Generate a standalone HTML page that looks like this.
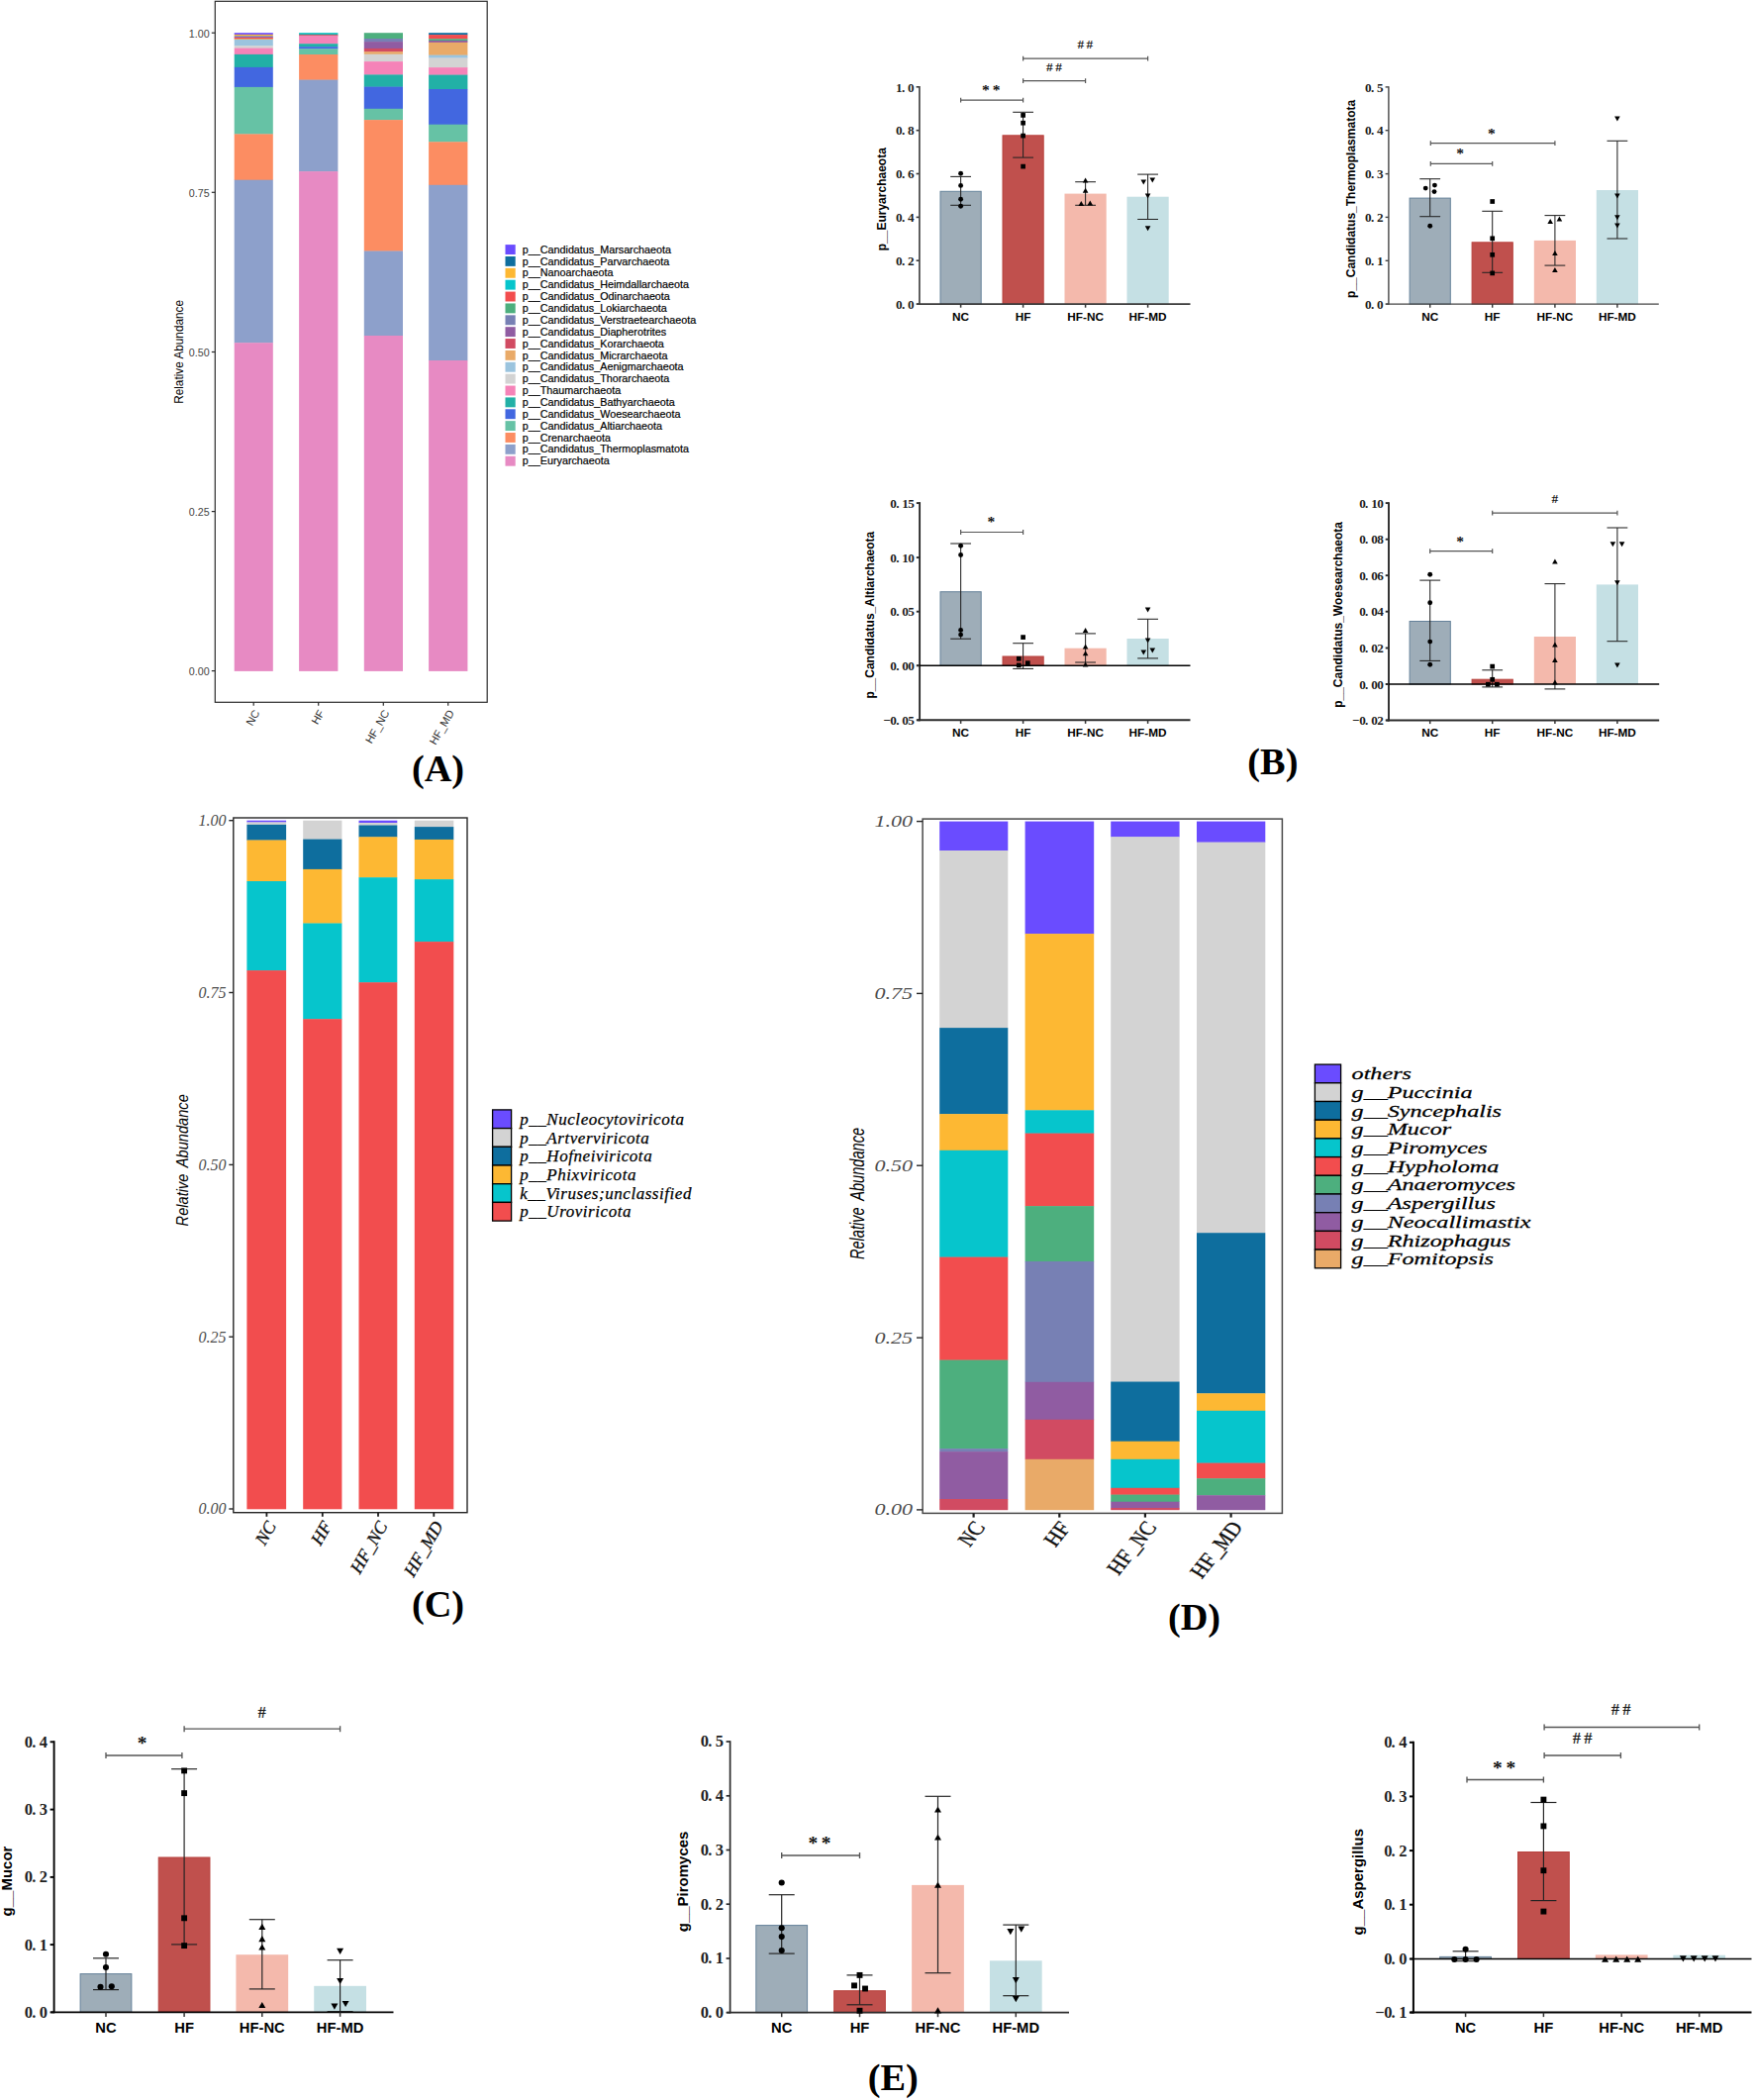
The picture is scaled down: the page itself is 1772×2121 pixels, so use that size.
<!DOCTYPE html>
<html lang="en">
<head>
<meta charset="utf-8">
<title>Figure: archaea, virus and fungi composition</title>
<style>
html,body{margin:0;padding:0;background:#fff;}
body{width:1772px;height:2121px;overflow:hidden;}
svg{display:block;}
.ff-sans{font-family:"Liberation Sans",sans-serif;}
.ff-serif{font-family:"Liberation Serif",serif;}
</style>
</head>
<body>
<svg width="1772" height="2121" viewBox="0 0 1772 2121">
<rect x="0" y="0" width="1772" height="2121" fill="#fff"/>
<g id="panelA">
<rect x="236.7" y="33.2" width="39.1" height="2" fill="#6A4CFF"/>
<rect x="236.7" y="34.9" width="39.1" height="1.7" fill="#FDB833"/>
<rect x="236.7" y="36.3" width="39.1" height="1.2" fill="#7780B4"/>
<rect x="236.7" y="37.2" width="39.1" height="1.1" fill="#905CA2"/>
<rect x="236.7" y="38" width="39.1" height="1.3" fill="#F24D4E"/>
<rect x="236.7" y="39" width="39.1" height="1.2" fill="#E9AA68"/>
<rect x="236.7" y="39.9" width="39.1" height="6.6" fill="#9BC4DE"/>
<rect x="236.7" y="46.2" width="39.1" height="2.7" fill="#D3D3D3"/>
<rect x="236.7" y="48.6" width="39.1" height="6.6" fill="#F583B8"/>
<rect x="236.7" y="54.9" width="39.1" height="13.3" fill="#22B0A6"/>
<rect x="236.7" y="67.9" width="39.1" height="20.3" fill="#4267E0"/>
<rect x="236.7" y="87.9" width="39.1" height="47.8" fill="#66C2A5"/>
<rect x="236.7" y="135.4" width="39.1" height="46.6" fill="#FC8D62"/>
<rect x="236.7" y="181.7" width="39.1" height="164.8" fill="#8DA0CB"/>
<rect x="236.7" y="346.2" width="39.1" height="331.7" fill="#E78AC3"/>
<rect x="302.1" y="33.2" width="39.3" height="1" fill="#06C5CC"/>
<rect x="302.1" y="33.9" width="39.3" height="1.6" fill="#22B0A6"/>
<rect x="302.1" y="35.2" width="39.3" height="1.4" fill="#D14B62"/>
<rect x="302.1" y="36.3" width="39.3" height="8.2" fill="#F583B8"/>
<rect x="302.1" y="44.2" width="39.3" height="3.3" fill="#22B0A6"/>
<rect x="302.1" y="47.2" width="39.3" height="2.4" fill="#4267E0"/>
<rect x="302.1" y="49.3" width="39.3" height="6" fill="#66C2A5"/>
<rect x="302.1" y="55" width="39.3" height="25.9" fill="#FC8D62"/>
<rect x="302.1" y="80.6" width="39.3" height="92.8" fill="#8DA0CB"/>
<rect x="302.1" y="173.1" width="39.3" height="504.8" fill="#E78AC3"/>
<rect x="367.8" y="33.2" width="39.2" height="6.1" fill="#4DAF7E"/>
<rect x="367.8" y="39" width="39.2" height="3.4" fill="#7780B4"/>
<rect x="367.8" y="42.1" width="39.2" height="7.1" fill="#905CA2"/>
<rect x="367.8" y="48.9" width="39.2" height="3.6" fill="#D14B62"/>
<rect x="367.8" y="52.2" width="39.2" height="2.8" fill="#E9AA68"/>
<rect x="367.8" y="54.7" width="39.2" height="7.7" fill="#D3D3D3"/>
<rect x="367.8" y="62.1" width="39.2" height="13.6" fill="#F583B8"/>
<rect x="367.8" y="75.4" width="39.2" height="12.5" fill="#22B0A6"/>
<rect x="367.8" y="87.6" width="39.2" height="22.5" fill="#4267E0"/>
<rect x="367.8" y="109.8" width="39.2" height="11.6" fill="#66C2A5"/>
<rect x="367.8" y="121.1" width="39.2" height="132.7" fill="#FC8D62"/>
<rect x="367.8" y="253.5" width="39.2" height="85.8" fill="#8DA0CB"/>
<rect x="367.8" y="339" width="39.2" height="338.9" fill="#E78AC3"/>
<rect x="433.1" y="33.2" width="39.3" height="2.2" fill="#0E6E9E"/>
<rect x="433.1" y="35.1" width="39.3" height="4.5" fill="#F24D4E"/>
<rect x="433.1" y="39.3" width="39.3" height="2" fill="#4DAF7E"/>
<rect x="433.1" y="41" width="39.3" height="2.1" fill="#905CA2"/>
<rect x="433.1" y="42.8" width="39.3" height="13.1" fill="#E9AA68"/>
<rect x="433.1" y="55.6" width="39.3" height="3.2" fill="#9BC4DE"/>
<rect x="433.1" y="58.5" width="39.3" height="9.9" fill="#D3D3D3"/>
<rect x="433.1" y="68.1" width="39.3" height="7.8" fill="#F583B8"/>
<rect x="433.1" y="75.6" width="39.3" height="14.7" fill="#22B0A6"/>
<rect x="433.1" y="90" width="39.3" height="36" fill="#4267E0"/>
<rect x="433.1" y="125.7" width="39.3" height="17.9" fill="#66C2A5"/>
<rect x="433.1" y="143.3" width="39.3" height="43.8" fill="#FC8D62"/>
<rect x="433.1" y="186.8" width="39.3" height="177.5" fill="#8DA0CB"/>
<rect x="433.1" y="364" width="39.3" height="313.9" fill="#E78AC3"/>
<rect x="217.3" y="1.3" width="274.9" height="708" fill="none" stroke="#2b2b2b" stroke-width="1.2"/>
<line x1="213.8" y1="33.2" x2="217.3" y2="33.2" stroke="#2b2b2b" stroke-width="1.2"/>
<text class="ff-sans" x="211.6" y="37.6" font-size="10.7" fill="#444" text-anchor="end">1.00</text>
<line x1="213.8" y1="194.3" x2="217.3" y2="194.3" stroke="#2b2b2b" stroke-width="1.2"/>
<text class="ff-sans" x="211.6" y="198.7" font-size="10.7" fill="#444" text-anchor="end">0.75</text>
<line x1="213.8" y1="355.5" x2="217.3" y2="355.5" stroke="#2b2b2b" stroke-width="1.2"/>
<text class="ff-sans" x="211.6" y="359.9" font-size="10.7" fill="#444" text-anchor="end">0.50</text>
<line x1="213.8" y1="516.6" x2="217.3" y2="516.6" stroke="#2b2b2b" stroke-width="1.2"/>
<text class="ff-sans" x="211.6" y="521" font-size="10.7" fill="#444" text-anchor="end">0.25</text>
<line x1="213.8" y1="677.6" x2="217.3" y2="677.6" stroke="#2b2b2b" stroke-width="1.2"/>
<text class="ff-sans" x="211.6" y="682" font-size="10.7" fill="#444" text-anchor="end">0.00</text>
<line x1="256.2" y1="709.3" x2="256.2" y2="712.8" stroke="#2b2b2b" stroke-width="1.2"/>
<text class="ff-sans" x="0" y="0" font-size="11.1" fill="#333" text-anchor="end" transform="translate(262.7,719.8) rotate(-60)">NC</text>
<line x1="321.7" y1="709.3" x2="321.7" y2="712.8" stroke="#2b2b2b" stroke-width="1.2"/>
<text class="ff-sans" x="0" y="0" font-size="11.1" fill="#333" text-anchor="end" transform="translate(328.2,719.8) rotate(-60)">HF</text>
<line x1="387.3" y1="709.3" x2="387.3" y2="712.8" stroke="#2b2b2b" stroke-width="1.2"/>
<text class="ff-sans" x="0" y="0" font-size="11.1" fill="#333" text-anchor="end" transform="translate(393.8,719.8) rotate(-60)">HF_NC</text>
<line x1="452.7" y1="709.3" x2="452.7" y2="712.8" stroke="#2b2b2b" stroke-width="1.2"/>
<text class="ff-sans" x="0" y="0" font-size="11.1" fill="#333" text-anchor="end" transform="translate(459.2,719.8) rotate(-60)">HF_MD</text>
<text class="ff-sans" x="0" y="0" font-size="11.8" fill="#000" text-anchor="middle" transform="translate(185.4,355.4) rotate(-90) scale(1,1.1)">Relative Abundance</text>
<rect x="510.5" y="247.1" width="10.2" height="9.9" fill="#6A4CFF"/>
<text class="ff-sans" x="527.8" y="255.7" font-size="10.77" fill="#000" stroke="#000" stroke-width="0.2">p__Candidatus_Marsarchaeota</text>
<rect x="510.5" y="258.97" width="10.2" height="9.9" fill="#0E6E9E"/>
<text class="ff-sans" x="527.8" y="267.57" font-size="10.77" fill="#000" stroke="#000" stroke-width="0.2">p__Candidatus_Parvarchaeota</text>
<rect x="510.5" y="270.84" width="10.2" height="9.9" fill="#FDB833"/>
<text class="ff-sans" x="527.8" y="279.44" font-size="10.77" fill="#000" stroke="#000" stroke-width="0.2">p__Nanoarchaeota</text>
<rect x="510.5" y="282.71" width="10.2" height="9.9" fill="#06C5CC"/>
<text class="ff-sans" x="527.8" y="291.31" font-size="10.77" fill="#000" stroke="#000" stroke-width="0.2">p__Candidatus_Heimdallarchaeota</text>
<rect x="510.5" y="294.58" width="10.2" height="9.9" fill="#F24D4E"/>
<text class="ff-sans" x="527.8" y="303.18" font-size="10.77" fill="#000" stroke="#000" stroke-width="0.2">p__Candidatus_Odinarchaeota</text>
<rect x="510.5" y="306.45" width="10.2" height="9.9" fill="#4DAF7E"/>
<text class="ff-sans" x="527.8" y="315.05" font-size="10.77" fill="#000" stroke="#000" stroke-width="0.2">p__Candidatus_Lokiarchaeota</text>
<rect x="510.5" y="318.32" width="10.2" height="9.9" fill="#7780B4"/>
<text class="ff-sans" x="527.8" y="326.92" font-size="10.77" fill="#000" stroke="#000" stroke-width="0.2">p__Candidatus_Verstraetearchaeota</text>
<rect x="510.5" y="330.19" width="10.2" height="9.9" fill="#905CA2"/>
<text class="ff-sans" x="527.8" y="338.79" font-size="10.77" fill="#000" stroke="#000" stroke-width="0.2">p__Candidatus_Diapherotrites</text>
<rect x="510.5" y="342.06" width="10.2" height="9.9" fill="#D14B62"/>
<text class="ff-sans" x="527.8" y="350.66" font-size="10.77" fill="#000" stroke="#000" stroke-width="0.2">p__Candidatus_Korarchaeota</text>
<rect x="510.5" y="353.93" width="10.2" height="9.9" fill="#E9AA68"/>
<text class="ff-sans" x="527.8" y="362.53" font-size="10.77" fill="#000" stroke="#000" stroke-width="0.2">p__Candidatus_Micrarchaeota</text>
<rect x="510.5" y="365.8" width="10.2" height="9.9" fill="#9BC4DE"/>
<text class="ff-sans" x="527.8" y="374.4" font-size="10.77" fill="#000" stroke="#000" stroke-width="0.2">p__Candidatus_Aenigmarchaeota</text>
<rect x="510.5" y="377.67" width="10.2" height="9.9" fill="#D3D3D3"/>
<text class="ff-sans" x="527.8" y="386.27" font-size="10.77" fill="#000" stroke="#000" stroke-width="0.2">p__Candidatus_Thorarchaeota</text>
<rect x="510.5" y="389.54" width="10.2" height="9.9" fill="#F583B8"/>
<text class="ff-sans" x="527.8" y="398.14" font-size="10.77" fill="#000" stroke="#000" stroke-width="0.2">p__Thaumarchaeota</text>
<rect x="510.5" y="401.41" width="10.2" height="9.9" fill="#22B0A6"/>
<text class="ff-sans" x="527.8" y="410.01" font-size="10.77" fill="#000" stroke="#000" stroke-width="0.2">p__Candidatus_Bathyarchaeota</text>
<rect x="510.5" y="413.28" width="10.2" height="9.9" fill="#4267E0"/>
<text class="ff-sans" x="527.8" y="421.88" font-size="10.77" fill="#000" stroke="#000" stroke-width="0.2">p__Candidatus_Woesearchaeota</text>
<rect x="510.5" y="425.15" width="10.2" height="9.9" fill="#66C2A5"/>
<text class="ff-sans" x="527.8" y="433.75" font-size="10.77" fill="#000" stroke="#000" stroke-width="0.2">p__Candidatus_Altiarchaeota</text>
<rect x="510.5" y="437.02" width="10.2" height="9.9" fill="#FC8D62"/>
<text class="ff-sans" x="527.8" y="445.62" font-size="10.77" fill="#000" stroke="#000" stroke-width="0.2">p__Crenarchaeota</text>
<rect x="510.5" y="448.89" width="10.2" height="9.9" fill="#8DA0CB"/>
<text class="ff-sans" x="527.8" y="457.49" font-size="10.77" fill="#000" stroke="#000" stroke-width="0.2">p__Candidatus_Thermoplasmatota</text>
<rect x="510.5" y="460.76" width="10.2" height="9.9" fill="#E78AC3"/>
<text class="ff-sans" x="527.8" y="469.36" font-size="10.77" fill="#000" stroke="#000" stroke-width="0.2">p__Euryarchaeota</text>
</g>
<g id="B1">
<rect x="950" y="193.3" width="41.2" height="113.8" fill="#9EADB8" stroke="#65829A" stroke-width="1"/>
<rect x="1013" y="136.8" width="41.2" height="170.3" fill="#C0504D" stroke="#B8423E" stroke-width="1"/>
<rect x="1075.5" y="195.6" width="42.2" height="111.5" fill="#F4B9AC"/>
<rect x="1138.5" y="198.7" width="42.2" height="108.4" fill="#C5E0E4"/>
<line x1="970.6" y1="178.4" x2="970.6" y2="207.3" stroke="#222" stroke-width="1.05"/>
<line x1="960.2" y1="178.4" x2="981" y2="178.4" stroke="#222" stroke-width="1.05"/>
<line x1="960.2" y1="207.3" x2="981" y2="207.3" stroke="#222" stroke-width="1.05"/>
<line x1="1033.6" y1="113.3" x2="1033.6" y2="159.1" stroke="#222" stroke-width="1.05"/>
<line x1="1023.2" y1="113.3" x2="1044" y2="113.3" stroke="#222" stroke-width="1.05"/>
<line x1="1023.2" y1="159.1" x2="1044" y2="159.1" stroke="#222" stroke-width="1.05"/>
<line x1="1096.6" y1="183.7" x2="1096.6" y2="207.3" stroke="#222" stroke-width="1.05"/>
<line x1="1086.2" y1="183.7" x2="1107" y2="183.7" stroke="#222" stroke-width="1.05"/>
<line x1="1086.2" y1="207.3" x2="1107" y2="207.3" stroke="#222" stroke-width="1.05"/>
<line x1="1159.6" y1="176.1" x2="1159.6" y2="221.5" stroke="#222" stroke-width="1.05"/>
<line x1="1149.2" y1="176.1" x2="1170" y2="176.1" stroke="#222" stroke-width="1.05"/>
<line x1="1149.2" y1="221.5" x2="1170" y2="221.5" stroke="#222" stroke-width="1.05"/>
<line x1="928.9" y1="87" x2="928.9" y2="307.9" stroke="#3a3a3a" stroke-width="1.6"/>
<line x1="926.3" y1="307.1" x2="1202.5" y2="307.1" stroke="#3a3a3a" stroke-width="1.6"/>
<line x1="925.6" y1="307.1" x2="928.9" y2="307.1" stroke="#3a3a3a" stroke-width="1.6"/>
<text class="ff-serif" x="905.1 911 917.1" y="311.8" font-size="13.2" fill="#1f1f1f" font-weight="bold">0.0</text>
<line x1="925.6" y1="263.2" x2="928.9" y2="263.2" stroke="#3a3a3a" stroke-width="1.6"/>
<text class="ff-serif" x="905.1 911 917.1" y="267.9" font-size="13.2" fill="#1f1f1f" font-weight="bold">0.2</text>
<line x1="925.6" y1="219.4" x2="928.9" y2="219.4" stroke="#3a3a3a" stroke-width="1.6"/>
<text class="ff-serif" x="905.1 911 917.1" y="224.1" font-size="13.2" fill="#1f1f1f" font-weight="bold">0.4</text>
<line x1="925.6" y1="175.5" x2="928.9" y2="175.5" stroke="#3a3a3a" stroke-width="1.6"/>
<text class="ff-serif" x="905.1 911 917.1" y="180.2" font-size="13.2" fill="#1f1f1f" font-weight="bold">0.6</text>
<line x1="925.6" y1="131.7" x2="928.9" y2="131.7" stroke="#3a3a3a" stroke-width="1.6"/>
<text class="ff-serif" x="905.1 911 917.1" y="136.4" font-size="13.2" fill="#1f1f1f" font-weight="bold">0.8</text>
<line x1="925.6" y1="87.8" x2="928.9" y2="87.8" stroke="#3a3a3a" stroke-width="1.6"/>
<text class="ff-serif" x="905.1 911 917.1" y="92.5" font-size="13.2" fill="#1f1f1f" font-weight="bold">1.0</text>
<line x1="970.6" y1="307.1" x2="970.6" y2="310.7" stroke="#333" stroke-width="1.5"/>
<text class="ff-sans" x="970.6" y="324.3" font-size="11.8" fill="#000" text-anchor="middle" font-weight="bold">NC</text>
<line x1="1033.6" y1="307.1" x2="1033.6" y2="310.7" stroke="#333" stroke-width="1.5"/>
<text class="ff-sans" x="1033.6" y="324.3" font-size="11.8" fill="#000" text-anchor="middle" font-weight="bold">HF</text>
<line x1="1096.6" y1="307.1" x2="1096.6" y2="310.7" stroke="#333" stroke-width="1.5"/>
<text class="ff-sans" x="1096.6" y="324.3" font-size="11.8" fill="#000" text-anchor="middle" font-weight="bold">HF-NC</text>
<line x1="1159.6" y1="307.1" x2="1159.6" y2="310.7" stroke="#333" stroke-width="1.5"/>
<text class="ff-sans" x="1159.6" y="324.3" font-size="11.8" fill="#000" text-anchor="middle" font-weight="bold">HF-MD</text>
<circle cx="970.6" cy="175.3" r="2.45" fill="#000"/>
<circle cx="970.6" cy="187.4" r="2.45" fill="#000"/>
<circle cx="970.6" cy="201.2" r="2.45" fill="#000"/>
<circle cx="970.6" cy="208.2" r="2.45" fill="#000"/>
<rect x="1031.25" y="114.05" width="4.7" height="4.7" fill="#000"/>
<rect x="1031.25" y="121.85" width="4.7" height="4.7" fill="#000"/>
<rect x="1031.25" y="134.75" width="4.7" height="4.7" fill="#000"/>
<rect x="1031.25" y="165.75" width="4.7" height="4.7" fill="#000"/>
<polygon points="1096.6,179.4 1099.4,184.4 1093.8,184.4" fill="#000"/>
<polygon points="1096.6,189.7 1099.4,194.7 1093.8,194.7" fill="#000"/>
<polygon points="1092.3,203 1095.1,208 1089.5,208" fill="#000"/>
<polygon points="1101.3,202.6 1104.1,207.6 1098.5,207.6" fill="#000"/>
<polygon points="1155.3,186.4 1158.1,181.4 1152.5,181.4" fill="#000"/>
<polygon points="1164.3,184.6 1167.1,179.6 1161.5,179.6" fill="#000"/>
<polygon points="1159.6,200.4 1162.4,195.4 1156.8,195.4" fill="#000"/>
<polygon points="1159.6,233.2 1162.4,228.2 1156.8,228.2" fill="#000"/>
<line x1="970.6" y1="101.2" x2="1033.6" y2="101.2" stroke="#555" stroke-width="1.2"/>
<line x1="970.6" y1="98.8" x2="970.6" y2="103.6" stroke="#555" stroke-width="1.2"/>
<line x1="1033.6" y1="98.8" x2="1033.6" y2="103.6" stroke="#555" stroke-width="1.2"/>
<text class="ff-serif" x="1002.8" y="96.19" font-size="15.5" fill="#111" text-anchor="middle" font-weight="bold" letter-spacing="3">**</text>
<line x1="1033.6" y1="81.7" x2="1096.6" y2="81.7" stroke="#555" stroke-width="1.2"/>
<line x1="1033.6" y1="79.3" x2="1033.6" y2="84.1" stroke="#555" stroke-width="1.2"/>
<line x1="1096.6" y1="79.3" x2="1096.6" y2="84.1" stroke="#555" stroke-width="1.2"/>
<text class="ff-serif" x="1066.25" y="71.73" font-size="13.3" fill="#1a1a1a" text-anchor="middle" font-weight="bold" letter-spacing="2.5">##</text>
<line x1="1033.6" y1="59.1" x2="1159.6" y2="59.1" stroke="#555" stroke-width="1.2"/>
<line x1="1033.6" y1="56.7" x2="1033.6" y2="61.5" stroke="#555" stroke-width="1.2"/>
<line x1="1159.6" y1="56.7" x2="1159.6" y2="61.5" stroke="#555" stroke-width="1.2"/>
<text class="ff-serif" x="1097.55" y="48.73" font-size="13.3" fill="#1a1a1a" text-anchor="middle" font-weight="bold" letter-spacing="2.5">##</text>
<text class="ff-sans" x="0" y="0" font-size="12" fill="#000" text-anchor="middle" font-weight="bold" transform="translate(895.2,201.2) rotate(-90)">p__Euryarchaeota</text>
</g>
<g id="B2">
<rect x="1424.1" y="200.1" width="41.2" height="107" fill="#9EADB8" stroke="#65829A" stroke-width="1"/>
<rect x="1487.1" y="244.8" width="41.2" height="62.3" fill="#C0504D" stroke="#B8423E" stroke-width="1"/>
<rect x="1549.8" y="242.9" width="42.2" height="64.2" fill="#F4B9AC"/>
<rect x="1612.8" y="192" width="42.2" height="115.1" fill="#C5E0E4"/>
<line x1="1444.7" y1="180.7" x2="1444.7" y2="218.7" stroke="#222" stroke-width="1.05"/>
<line x1="1434.3" y1="180.7" x2="1455.1" y2="180.7" stroke="#222" stroke-width="1.05"/>
<line x1="1434.3" y1="218.7" x2="1455.1" y2="218.7" stroke="#222" stroke-width="1.05"/>
<line x1="1507.7" y1="213.3" x2="1507.7" y2="275.3" stroke="#222" stroke-width="1.05"/>
<line x1="1497.3" y1="213.3" x2="1518.1" y2="213.3" stroke="#222" stroke-width="1.05"/>
<line x1="1497.3" y1="275.3" x2="1518.1" y2="275.3" stroke="#222" stroke-width="1.05"/>
<line x1="1570.9" y1="217.6" x2="1570.9" y2="268.1" stroke="#222" stroke-width="1.05"/>
<line x1="1560.5" y1="217.6" x2="1581.3" y2="217.6" stroke="#222" stroke-width="1.05"/>
<line x1="1560.5" y1="268.1" x2="1581.3" y2="268.1" stroke="#222" stroke-width="1.05"/>
<line x1="1633.9" y1="142.3" x2="1633.9" y2="241" stroke="#222" stroke-width="1.05"/>
<line x1="1623.5" y1="142.3" x2="1644.3" y2="142.3" stroke="#222" stroke-width="1.05"/>
<line x1="1623.5" y1="241" x2="1644.3" y2="241" stroke="#222" stroke-width="1.05"/>
<line x1="1402.9" y1="87.2" x2="1402.9" y2="307.8" stroke="#444" stroke-width="1.4"/>
<line x1="1400.3" y1="307.1" x2="1675.8" y2="307.1" stroke="#444" stroke-width="1.4"/>
<line x1="1399.6" y1="307.1" x2="1402.9" y2="307.1" stroke="#444" stroke-width="1.4"/>
<text class="ff-serif" x="1379.1 1385 1391.1" y="311.8" font-size="13.2" fill="#1f1f1f" font-weight="bold">0.0</text>
<line x1="1399.6" y1="263.3" x2="1402.9" y2="263.3" stroke="#444" stroke-width="1.4"/>
<text class="ff-serif" x="1379.1 1385 1391.1" y="268" font-size="13.2" fill="#1f1f1f" font-weight="bold">0.1</text>
<line x1="1399.6" y1="219.4" x2="1402.9" y2="219.4" stroke="#444" stroke-width="1.4"/>
<text class="ff-serif" x="1379.1 1385 1391.1" y="224.1" font-size="13.2" fill="#1f1f1f" font-weight="bold">0.2</text>
<line x1="1399.6" y1="175.6" x2="1402.9" y2="175.6" stroke="#444" stroke-width="1.4"/>
<text class="ff-serif" x="1379.1 1385 1391.1" y="180.3" font-size="13.2" fill="#1f1f1f" font-weight="bold">0.3</text>
<line x1="1399.6" y1="131.7" x2="1402.9" y2="131.7" stroke="#444" stroke-width="1.4"/>
<text class="ff-serif" x="1379.1 1385 1391.1" y="136.4" font-size="13.2" fill="#1f1f1f" font-weight="bold">0.4</text>
<line x1="1399.6" y1="87.9" x2="1402.9" y2="87.9" stroke="#444" stroke-width="1.4"/>
<text class="ff-serif" x="1379.1 1385 1391.1" y="92.6" font-size="13.2" fill="#1f1f1f" font-weight="bold">0.5</text>
<line x1="1444.7" y1="307.1" x2="1444.7" y2="310.7" stroke="#333" stroke-width="1.4"/>
<text class="ff-sans" x="1444.7" y="324.3" font-size="11.8" fill="#000" text-anchor="middle" font-weight="bold">NC</text>
<line x1="1507.7" y1="307.1" x2="1507.7" y2="310.7" stroke="#333" stroke-width="1.4"/>
<text class="ff-sans" x="1507.7" y="324.3" font-size="11.8" fill="#000" text-anchor="middle" font-weight="bold">HF</text>
<line x1="1570.9" y1="307.1" x2="1570.9" y2="310.7" stroke="#333" stroke-width="1.4"/>
<text class="ff-sans" x="1570.9" y="324.3" font-size="11.8" fill="#000" text-anchor="middle" font-weight="bold">HF-NC</text>
<line x1="1633.9" y1="307.1" x2="1633.9" y2="310.7" stroke="#333" stroke-width="1.4"/>
<text class="ff-sans" x="1633.9" y="324.3" font-size="11.8" fill="#000" text-anchor="middle" font-weight="bold">HF-MD</text>
<circle cx="1440.2" cy="190.1" r="2.45" fill="#000"/>
<circle cx="1449.4" cy="187.1" r="2.45" fill="#000"/>
<circle cx="1449" cy="193.6" r="2.45" fill="#000"/>
<circle cx="1444.7" cy="228.3" r="2.45" fill="#000"/>
<rect x="1505.35" y="201.15" width="4.7" height="4.7" fill="#000"/>
<rect x="1505.35" y="238.45" width="4.7" height="4.7" fill="#000"/>
<rect x="1505.35" y="254.95" width="4.7" height="4.7" fill="#000"/>
<rect x="1505.35" y="273.55" width="4.7" height="4.7" fill="#000"/>
<polygon points="1566.2,221.1 1569,226.1 1563.4,226.1" fill="#000"/>
<polygon points="1575.4,218.6 1578.2,223.6 1572.6,223.6" fill="#000"/>
<polygon points="1570.9,253.1 1573.7,258.1 1568.1,258.1" fill="#000"/>
<polygon points="1570.9,269.9 1573.7,274.9 1568.1,274.9" fill="#000"/>
<polygon points="1633.9,122.6 1636.7,117.6 1631.1,117.6" fill="#000"/>
<polygon points="1633.9,200.6 1636.7,195.6 1631.1,195.6" fill="#000"/>
<polygon points="1633.9,222.2 1636.7,217.2 1631.1,217.2" fill="#000"/>
<polygon points="1633.9,230.4 1636.7,225.4 1631.1,225.4" fill="#000"/>
<line x1="1445.3" y1="165.3" x2="1507.7" y2="165.3" stroke="#555" stroke-width="1.2"/>
<line x1="1445.3" y1="162.9" x2="1445.3" y2="167.7" stroke="#555" stroke-width="1.2"/>
<line x1="1507.7" y1="162.9" x2="1507.7" y2="167.7" stroke="#555" stroke-width="1.2"/>
<text class="ff-serif" x="1475" y="160.28" font-size="15.5" fill="#111" text-anchor="middle" font-weight="bold">*</text>
<line x1="1445.3" y1="144.6" x2="1570.9" y2="144.6" stroke="#555" stroke-width="1.2"/>
<line x1="1445.3" y1="142.2" x2="1445.3" y2="147" stroke="#555" stroke-width="1.2"/>
<line x1="1570.9" y1="142.2" x2="1570.9" y2="147" stroke="#555" stroke-width="1.2"/>
<text class="ff-serif" x="1506.9" y="139.69" font-size="15.5" fill="#111" text-anchor="middle" font-weight="bold">*</text>
<text class="ff-sans" x="0" y="0" font-size="12" fill="#000" text-anchor="middle" font-weight="bold" transform="translate(1369,200.9) rotate(-90)">p__Candidatus_Thermoplasmatota</text>
</g>
<g id="B3">
<rect x="950" y="597.7" width="41.2" height="74.6" fill="#9EADB8" stroke="#65829A" stroke-width="1"/>
<rect x="1013" y="663" width="41.2" height="9.3" fill="#C0504D" stroke="#B8423E" stroke-width="1"/>
<rect x="1075.5" y="654.7" width="42.2" height="17.6" fill="#F4B9AC"/>
<rect x="1138.5" y="645" width="42.2" height="27.3" fill="#C5E0E4"/>
<line x1="970.6" y1="549" x2="970.6" y2="645.2" stroke="#222" stroke-width="1.05"/>
<line x1="960.2" y1="549" x2="981" y2="549" stroke="#222" stroke-width="1.05"/>
<line x1="960.2" y1="645.2" x2="981" y2="645.2" stroke="#222" stroke-width="1.05"/>
<line x1="1033.6" y1="649.7" x2="1033.6" y2="675.4" stroke="#222" stroke-width="1.05"/>
<line x1="1023.2" y1="649.7" x2="1044" y2="649.7" stroke="#222" stroke-width="1.05"/>
<line x1="1023.2" y1="675.4" x2="1044" y2="675.4" stroke="#222" stroke-width="1.05"/>
<line x1="1096.6" y1="639.9" x2="1096.6" y2="669" stroke="#222" stroke-width="1.05"/>
<line x1="1086.2" y1="639.9" x2="1107" y2="639.9" stroke="#222" stroke-width="1.05"/>
<line x1="1086.2" y1="669" x2="1107" y2="669" stroke="#222" stroke-width="1.05"/>
<line x1="1159.6" y1="625.3" x2="1159.6" y2="664.9" stroke="#222" stroke-width="1.05"/>
<line x1="1149.2" y1="625.3" x2="1170" y2="625.3" stroke="#222" stroke-width="1.05"/>
<line x1="1149.2" y1="664.9" x2="1170" y2="664.9" stroke="#222" stroke-width="1.05"/>
<line x1="929.1" y1="507.15" x2="929.1" y2="728.25" stroke="#2a2a2a" stroke-width="1.9"/>
<line x1="926.5" y1="727.3" x2="1202.5" y2="727.3" stroke="#2a2a2a" stroke-width="1.9"/>
<line x1="926.1" y1="672.3" x2="1202.5" y2="672.3" stroke="#000" stroke-width="1.5"/>
<line x1="925.8" y1="727.3" x2="929.1" y2="727.3" stroke="#2a2a2a" stroke-width="1.9"/>
<text class="ff-serif" x="892.2 899.3 905.2 911.3 917.3" y="732" font-size="13.2" fill="#1f1f1f" font-weight="bold">−0.05</text>
<line x1="925.8" y1="672.3" x2="929.1" y2="672.3" stroke="#2a2a2a" stroke-width="1.9"/>
<text class="ff-serif" x="899.3 905.2 911.3 917.3" y="677" font-size="13.2" fill="#1f1f1f" font-weight="bold">0.00</text>
<line x1="925.8" y1="617.7" x2="929.1" y2="617.7" stroke="#2a2a2a" stroke-width="1.9"/>
<text class="ff-serif" x="899.3 905.2 911.3 917.3" y="622.4" font-size="13.2" fill="#1f1f1f" font-weight="bold">0.05</text>
<line x1="925.8" y1="563.1" x2="929.1" y2="563.1" stroke="#2a2a2a" stroke-width="1.9"/>
<text class="ff-serif" x="899.3 905.2 911.3 917.3" y="567.8" font-size="13.2" fill="#1f1f1f" font-weight="bold">0.10</text>
<line x1="925.8" y1="508.1" x2="929.1" y2="508.1" stroke="#2a2a2a" stroke-width="1.9"/>
<text class="ff-serif" x="899.3 905.2 911.3 917.3" y="512.8" font-size="13.2" fill="#1f1f1f" font-weight="bold">0.15</text>
<line x1="970.6" y1="727.3" x2="970.6" y2="730.9" stroke="#333" stroke-width="1.5"/>
<text class="ff-sans" x="970.6" y="743.9" font-size="11.8" fill="#000" text-anchor="middle" font-weight="bold">NC</text>
<line x1="1033.6" y1="727.3" x2="1033.6" y2="730.9" stroke="#333" stroke-width="1.5"/>
<text class="ff-sans" x="1033.6" y="743.9" font-size="11.8" fill="#000" text-anchor="middle" font-weight="bold">HF</text>
<line x1="1096.6" y1="727.3" x2="1096.6" y2="730.9" stroke="#333" stroke-width="1.5"/>
<text class="ff-sans" x="1096.6" y="743.9" font-size="11.8" fill="#000" text-anchor="middle" font-weight="bold">HF-NC</text>
<line x1="1159.6" y1="727.3" x2="1159.6" y2="730.9" stroke="#333" stroke-width="1.5"/>
<text class="ff-sans" x="1159.6" y="743.9" font-size="11.8" fill="#000" text-anchor="middle" font-weight="bold">HF-MD</text>
<circle cx="970.6" cy="551.2" r="2.45" fill="#000"/>
<circle cx="970.6" cy="560.5" r="2.45" fill="#000"/>
<circle cx="970.6" cy="636.4" r="2.45" fill="#000"/>
<circle cx="970.6" cy="641.1" r="2.45" fill="#000"/>
<rect x="1031.25" y="641.25" width="4.7" height="4.7" fill="#000"/>
<rect x="1026.95" y="662.95" width="4.7" height="4.7" fill="#000"/>
<rect x="1035.95" y="667.35" width="4.7" height="4.7" fill="#000"/>
<rect x="1026.95" y="669.55" width="4.7" height="4.7" fill="#000"/>
<polygon points="1096.6,633.9 1099.4,638.9 1093.8,638.9" fill="#000"/>
<polygon points="1096.6,650.5 1099.4,655.5 1093.8,655.5" fill="#000"/>
<polygon points="1096.6,657.3 1099.4,662.3 1093.8,662.3" fill="#000"/>
<polygon points="1096.6,668.4 1099.4,673.4 1093.8,673.4" fill="#000"/>
<polygon points="1159.6,618.6 1162.4,613.6 1156.8,613.6" fill="#000"/>
<polygon points="1159.6,649.4 1162.4,644.4 1156.8,644.4" fill="#000"/>
<polygon points="1155.3,661.5 1158.1,656.5 1152.5,656.5" fill="#000"/>
<polygon points="1164.3,659.4 1167.1,654.4 1161.5,654.4" fill="#000"/>
<line x1="970.6" y1="537.5" x2="1033.6" y2="537.5" stroke="#555" stroke-width="1.2"/>
<line x1="970.6" y1="535.1" x2="970.6" y2="539.9" stroke="#555" stroke-width="1.2"/>
<line x1="1033.6" y1="535.1" x2="1033.6" y2="539.9" stroke="#555" stroke-width="1.2"/>
<text class="ff-serif" x="1001.4" y="532.18" font-size="15.5" fill="#111" text-anchor="middle" font-weight="bold">*</text>
<text class="ff-sans" x="0" y="0" font-size="12" fill="#000" text-anchor="middle" font-weight="bold" transform="translate(883,621.1) rotate(-90)">p__Candidatus_Altiarchaeota</text>
</g>
<g id="B4">
<rect x="1424.1" y="627.5" width="41.2" height="63.5" fill="#9EADB8" stroke="#65829A" stroke-width="1"/>
<rect x="1487.1" y="686.2" width="41.2" height="4.8" fill="#C0504D" stroke="#B8423E" stroke-width="1"/>
<rect x="1549.8" y="643" width="42.2" height="48" fill="#F4B9AC"/>
<rect x="1612.8" y="590.4" width="42.2" height="100.6" fill="#C5E0E4"/>
<line x1="1444.7" y1="586.1" x2="1444.7" y2="667.4" stroke="#222" stroke-width="1.05"/>
<line x1="1434.3" y1="586.1" x2="1455.1" y2="586.1" stroke="#222" stroke-width="1.05"/>
<line x1="1434.3" y1="667.4" x2="1455.1" y2="667.4" stroke="#222" stroke-width="1.05"/>
<line x1="1507.7" y1="676.8" x2="1507.7" y2="693.9" stroke="#222" stroke-width="1.05"/>
<line x1="1497.3" y1="676.8" x2="1518.1" y2="676.8" stroke="#222" stroke-width="1.05"/>
<line x1="1497.3" y1="693.9" x2="1518.1" y2="693.9" stroke="#222" stroke-width="1.05"/>
<line x1="1570.9" y1="589.6" x2="1570.9" y2="695.9" stroke="#222" stroke-width="1.05"/>
<line x1="1560.5" y1="589.6" x2="1581.3" y2="589.6" stroke="#222" stroke-width="1.05"/>
<line x1="1560.5" y1="695.9" x2="1581.3" y2="695.9" stroke="#222" stroke-width="1.05"/>
<line x1="1633.9" y1="533" x2="1633.9" y2="647.7" stroke="#222" stroke-width="1.05"/>
<line x1="1623.5" y1="533" x2="1644.3" y2="533" stroke="#222" stroke-width="1.05"/>
<line x1="1623.5" y1="647.7" x2="1644.3" y2="647.7" stroke="#222" stroke-width="1.05"/>
<line x1="1403" y1="507.15" x2="1403" y2="728.45" stroke="#2a2a2a" stroke-width="1.9"/>
<line x1="1400.4" y1="727.5" x2="1676.2" y2="727.5" stroke="#2a2a2a" stroke-width="1.9"/>
<line x1="1400" y1="691" x2="1676.2" y2="691" stroke="#000" stroke-width="1.5"/>
<line x1="1399.7" y1="727.5" x2="1403" y2="727.5" stroke="#2a2a2a" stroke-width="1.9"/>
<text class="ff-serif" x="1366.1 1373.2 1379.1 1385.2 1391.2" y="732.2" font-size="13.2" fill="#1f1f1f" font-weight="bold">−0.02</text>
<line x1="1399.7" y1="691" x2="1403" y2="691" stroke="#2a2a2a" stroke-width="1.9"/>
<text class="ff-serif" x="1373.2 1379.1 1385.2 1391.2" y="695.7" font-size="13.2" fill="#1f1f1f" font-weight="bold">0.00</text>
<line x1="1399.7" y1="654.5" x2="1403" y2="654.5" stroke="#2a2a2a" stroke-width="1.9"/>
<text class="ff-serif" x="1373.2 1379.1 1385.2 1391.2" y="659.2" font-size="13.2" fill="#1f1f1f" font-weight="bold">0.02</text>
<line x1="1399.7" y1="617.7" x2="1403" y2="617.7" stroke="#2a2a2a" stroke-width="1.9"/>
<text class="ff-serif" x="1373.2 1379.1 1385.2 1391.2" y="622.4" font-size="13.2" fill="#1f1f1f" font-weight="bold">0.04</text>
<line x1="1399.7" y1="581.2" x2="1403" y2="581.2" stroke="#2a2a2a" stroke-width="1.9"/>
<text class="ff-serif" x="1373.2 1379.1 1385.2 1391.2" y="585.9" font-size="13.2" fill="#1f1f1f" font-weight="bold">0.06</text>
<line x1="1399.7" y1="544.7" x2="1403" y2="544.7" stroke="#2a2a2a" stroke-width="1.9"/>
<text class="ff-serif" x="1373.2 1379.1 1385.2 1391.2" y="549.4" font-size="13.2" fill="#1f1f1f" font-weight="bold">0.08</text>
<line x1="1399.7" y1="508.1" x2="1403" y2="508.1" stroke="#2a2a2a" stroke-width="1.9"/>
<text class="ff-serif" x="1373.2 1379.1 1385.2 1391.2" y="512.8" font-size="13.2" fill="#1f1f1f" font-weight="bold">0.10</text>
<line x1="1444.7" y1="727.5" x2="1444.7" y2="731.1" stroke="#333" stroke-width="1.5"/>
<text class="ff-sans" x="1444.7" y="743.9" font-size="11.8" fill="#000" text-anchor="middle" font-weight="bold">NC</text>
<line x1="1507.7" y1="727.5" x2="1507.7" y2="731.1" stroke="#333" stroke-width="1.5"/>
<text class="ff-sans" x="1507.7" y="743.9" font-size="11.8" fill="#000" text-anchor="middle" font-weight="bold">HF</text>
<line x1="1570.9" y1="727.5" x2="1570.9" y2="731.1" stroke="#333" stroke-width="1.5"/>
<text class="ff-sans" x="1570.9" y="743.9" font-size="11.8" fill="#000" text-anchor="middle" font-weight="bold">HF-NC</text>
<line x1="1633.9" y1="727.5" x2="1633.9" y2="731.1" stroke="#333" stroke-width="1.5"/>
<text class="ff-sans" x="1633.9" y="743.9" font-size="11.8" fill="#000" text-anchor="middle" font-weight="bold">HF-MD</text>
<circle cx="1444.7" cy="580.2" r="2.45" fill="#000"/>
<circle cx="1444.7" cy="608.7" r="2.45" fill="#000"/>
<circle cx="1444.7" cy="648.1" r="2.45" fill="#000"/>
<circle cx="1444.7" cy="671.3" r="2.45" fill="#000"/>
<rect x="1505.35" y="670.75" width="4.7" height="4.7" fill="#000"/>
<rect x="1505.35" y="683.95" width="4.7" height="4.7" fill="#000"/>
<rect x="1501.05" y="688.85" width="4.7" height="4.7" fill="#000"/>
<rect x="1510.05" y="688.85" width="4.7" height="4.7" fill="#000"/>
<polygon points="1570.9,564.5 1573.7,569.5 1568.1,569.5" fill="#000"/>
<polygon points="1570.9,648.5 1573.7,653.5 1568.1,653.5" fill="#000"/>
<polygon points="1570.9,663.9 1573.7,668.9 1568.1,668.9" fill="#000"/>
<polygon points="1570.9,686.5 1573.7,691.5 1568.1,691.5" fill="#000"/>
<polygon points="1629.4,552.3 1632.2,547.3 1626.6,547.3" fill="#000"/>
<polygon points="1638.6,552.3 1641.4,547.3 1635.8,547.3" fill="#000"/>
<polygon points="1633.9,591.3 1636.7,586.3 1631.1,586.3" fill="#000"/>
<polygon points="1633.9,674.4 1636.7,669.4 1631.1,669.4" fill="#000"/>
<line x1="1444.7" y1="556.6" x2="1507.7" y2="556.6" stroke="#555" stroke-width="1.2"/>
<line x1="1444.7" y1="554.2" x2="1444.7" y2="559" stroke="#555" stroke-width="1.2"/>
<line x1="1507.7" y1="554.2" x2="1507.7" y2="559" stroke="#555" stroke-width="1.2"/>
<text class="ff-serif" x="1475" y="551.68" font-size="15.5" fill="#111" text-anchor="middle" font-weight="bold">*</text>
<line x1="1507.7" y1="518.2" x2="1633.9" y2="518.2" stroke="#555" stroke-width="1.2"/>
<line x1="1507.7" y1="515.8" x2="1507.7" y2="520.6" stroke="#555" stroke-width="1.2"/>
<line x1="1633.9" y1="515.8" x2="1633.9" y2="520.6" stroke="#555" stroke-width="1.2"/>
<text class="ff-serif" x="1570.9" y="507.93" font-size="13.3" fill="#1a1a1a" text-anchor="middle" font-weight="bold">#</text>
<text class="ff-sans" x="0" y="0" font-size="12" fill="#000" text-anchor="middle" font-weight="bold" transform="translate(1355.5,620.9) rotate(-90)">p__Candidatus_Woesearchaeota</text>
</g>
<g id="panelC">
<rect x="249.4" y="828.7" width="39.7" height="2" fill="#6A4CFF"/>
<rect x="249.4" y="830.4" width="39.7" height="2.8" fill="#D3D3D3"/>
<rect x="249.4" y="832.9" width="39.7" height="15.9" fill="#0E6E9E"/>
<rect x="249.4" y="848.5" width="39.7" height="41.8" fill="#FDB833"/>
<rect x="249.4" y="890" width="39.7" height="90.4" fill="#06C5CC"/>
<rect x="249.4" y="980.1" width="39.7" height="544.2" fill="#F24D4E"/>
<rect x="306.2" y="828.7" width="39.2" height="19.2" fill="#D3D3D3"/>
<rect x="306.2" y="847.6" width="39.2" height="30.6" fill="#0E6E9E"/>
<rect x="306.2" y="877.9" width="39.2" height="54.9" fill="#FDB833"/>
<rect x="306.2" y="932.5" width="39.2" height="97" fill="#06C5CC"/>
<rect x="306.2" y="1029.2" width="39.2" height="495.1" fill="#F24D4E"/>
<rect x="362.5" y="828.7" width="38.8" height="2.6" fill="#6A4CFF"/>
<rect x="362.5" y="831" width="38.8" height="2.8" fill="#D3D3D3"/>
<rect x="362.5" y="833.5" width="38.8" height="12.1" fill="#0E6E9E"/>
<rect x="362.5" y="845.3" width="38.8" height="41.2" fill="#FDB833"/>
<rect x="362.5" y="886.2" width="38.8" height="106.3" fill="#06C5CC"/>
<rect x="362.5" y="992.2" width="38.8" height="532.1" fill="#F24D4E"/>
<rect x="418.8" y="828.7" width="39.5" height="6.7" fill="#D3D3D3"/>
<rect x="418.8" y="835.1" width="39.5" height="13.1" fill="#0E6E9E"/>
<rect x="418.8" y="847.9" width="39.5" height="40.5" fill="#FDB833"/>
<rect x="418.8" y="888.1" width="39.5" height="63.3" fill="#06C5CC"/>
<rect x="418.8" y="951.1" width="39.5" height="573.2" fill="#F24D4E"/>
<rect x="235.8" y="826" width="236.2" height="701.7" fill="none" stroke="#262626" stroke-width="1.4"/>
<line x1="231.3" y1="828.7" x2="235.8" y2="828.7" stroke="#262626" stroke-width="1.4"/>
<text class="ff-serif" x="228.6" y="834.1" font-size="16" fill="#4d4d4d" text-anchor="end" font-style="italic">1.00</text>
<line x1="231.3" y1="1002.5" x2="235.8" y2="1002.5" stroke="#262626" stroke-width="1.4"/>
<text class="ff-serif" x="228.6" y="1007.9" font-size="16" fill="#4d4d4d" text-anchor="end" font-style="italic">0.75</text>
<line x1="231.3" y1="1176.4" x2="235.8" y2="1176.4" stroke="#262626" stroke-width="1.4"/>
<text class="ff-serif" x="228.6" y="1181.8" font-size="16" fill="#4d4d4d" text-anchor="end" font-style="italic">0.50</text>
<line x1="231.3" y1="1350.2" x2="235.8" y2="1350.2" stroke="#262626" stroke-width="1.4"/>
<text class="ff-serif" x="228.6" y="1355.6" font-size="16" fill="#4d4d4d" text-anchor="end" font-style="italic">0.25</text>
<line x1="231.3" y1="1524" x2="235.8" y2="1524" stroke="#262626" stroke-width="1.4"/>
<text class="ff-serif" x="228.6" y="1529.4" font-size="16" fill="#4d4d4d" text-anchor="end" font-style="italic">0.00</text>
<line x1="269.4" y1="1527.7" x2="269.4" y2="1531.8" stroke="#1a1a1a" stroke-width="1.8"/>
<text class="ff-serif" x="0" y="0" font-size="18" fill="#111" text-anchor="end" font-style="italic" transform="translate(279.4,1541) rotate(-60)" stroke="#111" stroke-width="0.3">NC</text>
<line x1="325.8" y1="1527.7" x2="325.8" y2="1531.8" stroke="#1a1a1a" stroke-width="1.8"/>
<text class="ff-serif" x="0" y="0" font-size="18" fill="#111" text-anchor="end" font-style="italic" transform="translate(335.8,1541) rotate(-60)" stroke="#111" stroke-width="0.3">HF</text>
<line x1="382" y1="1527.7" x2="382" y2="1531.8" stroke="#1a1a1a" stroke-width="1.8"/>
<text class="ff-serif" x="0" y="0" font-size="18" fill="#111" text-anchor="end" font-style="italic" transform="translate(392,1541) rotate(-60)" stroke="#111" stroke-width="0.3">HF_NC</text>
<line x1="438.3" y1="1527.7" x2="438.3" y2="1531.8" stroke="#1a1a1a" stroke-width="1.8"/>
<text class="ff-serif" x="0" y="0" font-size="18" fill="#111" text-anchor="end" font-style="italic" transform="translate(448.3,1541) rotate(-60)" stroke="#111" stroke-width="0.3">HF_MD</text>
<text class="ff-sans" x="0" y="0" font-size="15" fill="#000" text-anchor="middle" font-style="italic" transform="translate(190.4,1171.8) rotate(-90) scale(0.975,1.08)" word-spacing="3">Relative Abundance</text>
<rect x="497.6" y="1120.9" width="19" height="18.7" fill="#6A4CFF" stroke="#000" stroke-width="1.3"/>
<text class="ff-serif" x="525.2" y="1135.95" font-size="17" fill="#000" font-style="italic" stroke="#000" stroke-width="0.25" letter-spacing="0.55">p__Nucleocytoviricota</text>
<rect x="497.6" y="1139.6" width="19" height="18.7" fill="#D3D3D3" stroke="#000" stroke-width="1.3"/>
<text class="ff-serif" x="525.2" y="1154.65" font-size="17" fill="#000" font-style="italic" stroke="#000" stroke-width="0.25" letter-spacing="0.55">p__Artverviricota</text>
<rect x="497.6" y="1158.3" width="19" height="18.7" fill="#0E6E9E" stroke="#000" stroke-width="1.3"/>
<text class="ff-serif" x="525.2" y="1173.35" font-size="17" fill="#000" font-style="italic" stroke="#000" stroke-width="0.25" letter-spacing="0.55">p__Hofneiviricota</text>
<rect x="497.6" y="1177" width="19" height="18.7" fill="#FDB833" stroke="#000" stroke-width="1.3"/>
<text class="ff-serif" x="525.2" y="1192.05" font-size="17" fill="#000" font-style="italic" stroke="#000" stroke-width="0.25" letter-spacing="0.55">p__Phixviricota</text>
<rect x="497.6" y="1195.7" width="19" height="18.7" fill="#06C5CC" stroke="#000" stroke-width="1.3"/>
<text class="ff-serif" x="525.2" y="1210.75" font-size="17" fill="#000" font-style="italic" stroke="#000" stroke-width="0.25" letter-spacing="0.55">k__Viruses;unclassified</text>
<rect x="497.6" y="1214.4" width="19" height="18.7" fill="#F24D4E" stroke="#000" stroke-width="1.3"/>
<text class="ff-serif" x="525.2" y="1229.45" font-size="17" fill="#000" font-style="italic" stroke="#000" stroke-width="0.25" letter-spacing="0.55">p__Uroviricota</text>
</g>
<g id="panelD">
<rect x="949.2" y="829.6" width="69.1" height="29.7" fill="#6A4CFF"/>
<rect x="949.2" y="859" width="69.1" height="179.4" fill="#D3D3D3"/>
<rect x="949.2" y="1038.1" width="69.1" height="87.3" fill="#0E6E9E"/>
<rect x="949.2" y="1125.1" width="69.1" height="37" fill="#FDB833"/>
<rect x="949.2" y="1161.8" width="69.1" height="108.1" fill="#06C5CC"/>
<rect x="949.2" y="1269.6" width="69.1" height="104.3" fill="#F24D4E"/>
<rect x="949.2" y="1373.6" width="69.1" height="89.8" fill="#4DAF7E"/>
<rect x="949.2" y="1463.1" width="69.1" height="3.3" fill="#7780B4"/>
<rect x="949.2" y="1466.1" width="69.1" height="48.2" fill="#905CA2"/>
<rect x="949.2" y="1514" width="69.1" height="11.2" fill="#D14B62"/>
<rect x="1035.6" y="829.6" width="69.6" height="113.8" fill="#6A4CFF"/>
<rect x="1035.6" y="943.1" width="69.6" height="178.5" fill="#FDB833"/>
<rect x="1035.6" y="1121.3" width="69.6" height="23.6" fill="#06C5CC"/>
<rect x="1035.6" y="1144.6" width="69.6" height="73.8" fill="#F24D4E"/>
<rect x="1035.6" y="1218.1" width="69.6" height="56.2" fill="#4DAF7E"/>
<rect x="1035.6" y="1274" width="69.6" height="122.1" fill="#7780B4"/>
<rect x="1035.6" y="1395.8" width="69.6" height="38.3" fill="#905CA2"/>
<rect x="1035.6" y="1433.8" width="69.6" height="40.3" fill="#D14B62"/>
<rect x="1035.6" y="1473.8" width="69.6" height="51.4" fill="#E9AA68"/>
<rect x="1122.2" y="829.6" width="69.4" height="15.9" fill="#6A4CFF"/>
<rect x="1122.2" y="845.2" width="69.4" height="550.6" fill="#D3D3D3"/>
<rect x="1122.2" y="1395.5" width="69.4" height="60.5" fill="#0E6E9E"/>
<rect x="1122.2" y="1455.7" width="69.4" height="18.4" fill="#FDB833"/>
<rect x="1122.2" y="1473.8" width="69.4" height="29.3" fill="#06C5CC"/>
<rect x="1122.2" y="1502.8" width="69.4" height="7.1" fill="#F24D4E"/>
<rect x="1122.2" y="1509.6" width="69.4" height="7.4" fill="#4DAF7E"/>
<rect x="1122.2" y="1516.7" width="69.4" height="6.6" fill="#905CA2"/>
<rect x="1122.2" y="1523" width="69.4" height="2.2" fill="#D14B62"/>
<rect x="1209" y="829.6" width="69.3" height="21.3" fill="#6A4CFF"/>
<rect x="1209" y="850.6" width="69.3" height="394.9" fill="#D3D3D3"/>
<rect x="1209" y="1245.2" width="69.3" height="162.4" fill="#0E6E9E"/>
<rect x="1209" y="1407.3" width="69.3" height="17.8" fill="#FDB833"/>
<rect x="1209" y="1424.8" width="69.3" height="53.1" fill="#06C5CC"/>
<rect x="1209" y="1477.6" width="69.3" height="15.9" fill="#F24D4E"/>
<rect x="1209" y="1493.2" width="69.3" height="17.3" fill="#4DAF7E"/>
<rect x="1209" y="1510.2" width="69.3" height="15" fill="#905CA2"/>
<rect x="932.1" y="827.1" width="363.3" height="701.3" fill="none" stroke="#484848" stroke-width="1.5"/>
<line x1="926" y1="829.6" x2="932.1" y2="829.6" stroke="#262626" stroke-width="1.4"/>
<text class="ff-serif" x="0" y="0" font-size="16" fill="#4d4d4d" text-anchor="end" font-style="italic" transform="translate(922,835) scale(1.38,1)">1.00</text>
<line x1="926" y1="1003.4" x2="932.1" y2="1003.4" stroke="#262626" stroke-width="1.4"/>
<text class="ff-serif" x="0" y="0" font-size="16" fill="#4d4d4d" text-anchor="end" font-style="italic" transform="translate(922,1008.8) scale(1.38,1)">0.75</text>
<line x1="926" y1="1177.2" x2="932.1" y2="1177.2" stroke="#262626" stroke-width="1.4"/>
<text class="ff-serif" x="0" y="0" font-size="16" fill="#4d4d4d" text-anchor="end" font-style="italic" transform="translate(922,1182.6) scale(1.38,1)">0.50</text>
<line x1="926" y1="1351.1" x2="932.1" y2="1351.1" stroke="#262626" stroke-width="1.4"/>
<text class="ff-serif" x="0" y="0" font-size="16" fill="#4d4d4d" text-anchor="end" font-style="italic" transform="translate(922,1356.5) scale(1.38,1)">0.25</text>
<line x1="926" y1="1524.9" x2="932.1" y2="1524.9" stroke="#262626" stroke-width="1.4"/>
<text class="ff-serif" x="0" y="0" font-size="16" fill="#4d4d4d" text-anchor="end" font-style="italic" transform="translate(922,1530.3) scale(1.38,1)">0.00</text>
<line x1="983.6" y1="1528.4" x2="983.6" y2="1532.6" stroke="#1a1a1a" stroke-width="2.2"/>
<text class="ff-serif" x="0" y="0" font-size="18" fill="#111" text-anchor="end" font-style="italic" transform="translate(996.6,1542) scale(1.38,1) rotate(-60)" stroke="#111" stroke-width="0.3">NC</text>
<line x1="1070.3" y1="1528.4" x2="1070.3" y2="1532.6" stroke="#1a1a1a" stroke-width="2.2"/>
<text class="ff-serif" x="0" y="0" font-size="18" fill="#111" text-anchor="end" font-style="italic" transform="translate(1083.3,1542) scale(1.38,1) rotate(-60)" stroke="#111" stroke-width="0.3">HF</text>
<line x1="1156.9" y1="1528.4" x2="1156.9" y2="1532.6" stroke="#1a1a1a" stroke-width="2.2"/>
<text class="ff-serif" x="0" y="0" font-size="18" fill="#111" text-anchor="end" font-style="italic" transform="translate(1169.9,1542) scale(1.38,1) rotate(-60)" stroke="#111" stroke-width="0.3">HF_NC</text>
<line x1="1243.6" y1="1528.4" x2="1243.6" y2="1532.6" stroke="#1a1a1a" stroke-width="2.2"/>
<text class="ff-serif" x="0" y="0" font-size="18" fill="#111" text-anchor="end" font-style="italic" transform="translate(1256.6,1542) scale(1.38,1) rotate(-60)" stroke="#111" stroke-width="0.3">HF_MD</text>
<text class="ff-sans" x="0" y="0" font-size="15" fill="#000" text-anchor="middle" font-style="italic" transform="translate(873.2,1205.5) rotate(-90) scale(0.975,1.38)" word-spacing="3">Relative Abundance</text>
<rect x="1328.4" y="1075.1" width="26.2" height="18.7" fill="#6A4CFF" stroke="#000" stroke-width="1.3"/>
<text class="ff-serif" x="0" y="0" font-size="17" fill="#000" font-style="italic" transform="translate(1365.6,1090.25) scale(1.42,1)" stroke="#000" stroke-width="0.25">others</text>
<rect x="1328.4" y="1093.8" width="26.2" height="18.7" fill="#D3D3D3" stroke="#000" stroke-width="1.3"/>
<text class="ff-serif" x="0" y="0" font-size="17" fill="#000" font-style="italic" transform="translate(1365.6,1108.95) scale(1.42,1)" stroke="#000" stroke-width="0.25">g__Puccinia</text>
<rect x="1328.4" y="1112.5" width="26.2" height="18.7" fill="#0E6E9E" stroke="#000" stroke-width="1.3"/>
<text class="ff-serif" x="0" y="0" font-size="17" fill="#000" font-style="italic" transform="translate(1365.6,1127.65) scale(1.42,1)" stroke="#000" stroke-width="0.25">g__Syncephalis</text>
<rect x="1328.4" y="1131.2" width="26.2" height="18.7" fill="#FDB833" stroke="#000" stroke-width="1.3"/>
<text class="ff-serif" x="0" y="0" font-size="17" fill="#000" font-style="italic" transform="translate(1365.6,1146.35) scale(1.42,1)" stroke="#000" stroke-width="0.25">g__Mucor</text>
<rect x="1328.4" y="1149.9" width="26.2" height="18.7" fill="#06C5CC" stroke="#000" stroke-width="1.3"/>
<text class="ff-serif" x="0" y="0" font-size="17" fill="#000" font-style="italic" transform="translate(1365.6,1165.05) scale(1.42,1)" stroke="#000" stroke-width="0.25">g__Piromyces</text>
<rect x="1328.4" y="1168.6" width="26.2" height="18.7" fill="#F24D4E" stroke="#000" stroke-width="1.3"/>
<text class="ff-serif" x="0" y="0" font-size="17" fill="#000" font-style="italic" transform="translate(1365.6,1183.75) scale(1.42,1)" stroke="#000" stroke-width="0.25">g__Hypholoma</text>
<rect x="1328.4" y="1187.3" width="26.2" height="18.7" fill="#4DAF7E" stroke="#000" stroke-width="1.3"/>
<text class="ff-serif" x="0" y="0" font-size="17" fill="#000" font-style="italic" transform="translate(1365.6,1202.45) scale(1.42,1)" stroke="#000" stroke-width="0.25">g__Anaeromyces</text>
<rect x="1328.4" y="1206" width="26.2" height="18.7" fill="#7780B4" stroke="#000" stroke-width="1.3"/>
<text class="ff-serif" x="0" y="0" font-size="17" fill="#000" font-style="italic" transform="translate(1365.6,1221.15) scale(1.42,1)" stroke="#000" stroke-width="0.25">g__Aspergillus</text>
<rect x="1328.4" y="1224.7" width="26.2" height="18.7" fill="#905CA2" stroke="#000" stroke-width="1.3"/>
<text class="ff-serif" x="0" y="0" font-size="17" fill="#000" font-style="italic" transform="translate(1365.6,1239.85) scale(1.42,1)" stroke="#000" stroke-width="0.25">g__Neocallimastix</text>
<rect x="1328.4" y="1243.4" width="26.2" height="18.7" fill="#D14B62" stroke="#000" stroke-width="1.3"/>
<text class="ff-serif" x="0" y="0" font-size="17" fill="#000" font-style="italic" transform="translate(1365.6,1258.55) scale(1.42,1)" stroke="#000" stroke-width="0.25">g__Rhizophagus</text>
<rect x="1328.4" y="1262.1" width="26.2" height="18.7" fill="#E9AA68" stroke="#000" stroke-width="1.3"/>
<text class="ff-serif" x="0" y="0" font-size="17" fill="#000" font-style="italic" transform="translate(1365.6,1277.25) scale(1.42,1)" stroke="#000" stroke-width="0.25">g__Fomitopsis</text>
</g>
<g id="E1">
<rect x="81.12" y="1993.6" width="51.75" height="38.8" fill="#9EADB8" stroke="#65829A" stroke-width="1"/>
<rect x="160.22" y="1876" width="51.75" height="156.4" fill="#C0504D" stroke="#B8423E" stroke-width="1"/>
<rect x="238.43" y="1974.2" width="52.75" height="58.2" fill="#F4B9AC"/>
<rect x="317.23" y="2005.8" width="52.75" height="26.6" fill="#C5E0E4"/>
<line x1="107" y1="1977.8" x2="107" y2="2009.6" stroke="#222" stroke-width="1.17"/>
<line x1="94" y1="1977.8" x2="120" y2="1977.8" stroke="#222" stroke-width="1.17"/>
<line x1="94" y1="2009.6" x2="120" y2="2009.6" stroke="#222" stroke-width="1.17"/>
<line x1="186.1" y1="1786.7" x2="186.1" y2="1963.9" stroke="#222" stroke-width="1.17"/>
<line x1="173.1" y1="1786.7" x2="199.1" y2="1786.7" stroke="#222" stroke-width="1.17"/>
<line x1="173.1" y1="1963.9" x2="199.1" y2="1963.9" stroke="#222" stroke-width="1.17"/>
<line x1="264.8" y1="1938.7" x2="264.8" y2="2008.9" stroke="#222" stroke-width="1.17"/>
<line x1="251.8" y1="1938.7" x2="277.8" y2="1938.7" stroke="#222" stroke-width="1.17"/>
<line x1="251.8" y1="2008.9" x2="277.8" y2="2008.9" stroke="#222" stroke-width="1.17"/>
<line x1="343.6" y1="1979.7" x2="343.6" y2="2031.7" stroke="#222" stroke-width="1.17"/>
<line x1="330.6" y1="1979.7" x2="356.6" y2="1979.7" stroke="#222" stroke-width="1.17"/>
<line x1="330.6" y1="2031.7" x2="356.6" y2="2031.7" stroke="#222" stroke-width="1.17"/>
<line x1="54.6" y1="1758.35" x2="54.6" y2="2033.35" stroke="#000" stroke-width="1.9"/>
<line x1="51.35" y1="2032.4" x2="397.5" y2="2032.4" stroke="#000" stroke-width="1.9"/>
<line x1="50.6" y1="2032.4" x2="54.6" y2="2032.4" stroke="#000" stroke-width="1.9"/>
<text class="ff-serif" x="24.85 32.23 39.85" y="2037.8" font-size="16.5" fill="#1f1f1f" font-weight="bold">0.0</text>
<line x1="50.6" y1="1964.1" x2="54.6" y2="1964.1" stroke="#000" stroke-width="1.9"/>
<text class="ff-serif" x="24.85 32.23 39.85" y="1969.5" font-size="16.5" fill="#1f1f1f" font-weight="bold">0.1</text>
<line x1="50.6" y1="1895.9" x2="54.6" y2="1895.9" stroke="#000" stroke-width="1.9"/>
<text class="ff-serif" x="24.85 32.23 39.85" y="1901.3" font-size="16.5" fill="#1f1f1f" font-weight="bold">0.2</text>
<line x1="50.6" y1="1827.6" x2="54.6" y2="1827.6" stroke="#000" stroke-width="1.9"/>
<text class="ff-serif" x="24.85 32.23 39.85" y="1833" font-size="16.5" fill="#1f1f1f" font-weight="bold">0.3</text>
<line x1="50.6" y1="1759.3" x2="54.6" y2="1759.3" stroke="#000" stroke-width="1.9"/>
<text class="ff-serif" x="24.85 32.23 39.85" y="1764.7" font-size="16.5" fill="#1f1f1f" font-weight="bold">0.4</text>
<line x1="107" y1="2032.4" x2="107" y2="2036.9" stroke="#333" stroke-width="1.5"/>
<text class="ff-sans" x="107" y="2052.93" font-size="14.75" fill="#000" text-anchor="middle" font-weight="bold">NC</text>
<line x1="186.1" y1="2032.4" x2="186.1" y2="2036.9" stroke="#333" stroke-width="1.5"/>
<text class="ff-sans" x="186.1" y="2052.93" font-size="14.75" fill="#000" text-anchor="middle" font-weight="bold">HF</text>
<line x1="264.8" y1="2032.4" x2="264.8" y2="2036.9" stroke="#333" stroke-width="1.5"/>
<text class="ff-sans" x="264.8" y="2052.93" font-size="14.75" fill="#000" text-anchor="middle" font-weight="bold">HF-NC</text>
<line x1="343.6" y1="2032.4" x2="343.6" y2="2036.9" stroke="#333" stroke-width="1.5"/>
<text class="ff-sans" x="343.6" y="2052.93" font-size="14.75" fill="#000" text-anchor="middle" font-weight="bold">HF-MD</text>
<circle cx="107" cy="1973.7" r="3.06" fill="#000"/>
<circle cx="107" cy="1987.1" r="3.06" fill="#000"/>
<circle cx="101.5" cy="2006.8" r="3.06" fill="#000"/>
<circle cx="112.8" cy="2006.3" r="3.06" fill="#000"/>
<rect x="183.16" y="1785.46" width="5.88" height="5.88" fill="#000"/>
<rect x="183.16" y="1808.16" width="5.88" height="5.88" fill="#000"/>
<rect x="183.16" y="1934.36" width="5.88" height="5.88" fill="#000"/>
<rect x="183.16" y="1962.16" width="5.88" height="5.88" fill="#000"/>
<polygon points="264.8,1942.78 268.3,1949.03 261.3,1949.03" fill="#000"/>
<polygon points="264.8,1954.97 268.3,1961.22 261.3,1961.22" fill="#000"/>
<polygon points="264.8,1963.38 268.3,1969.62 261.3,1969.62" fill="#000"/>
<polygon points="264.8,2021.88 268.3,2028.12 261.3,2028.12" fill="#000"/>
<polygon points="343.6,1973.92 347.1,1967.67 340.1,1967.67" fill="#000"/>
<polygon points="343.6,2004.12 347.1,1997.88 340.1,1997.88" fill="#000"/>
<polygon points="337.9,2029.72 341.4,2023.47 334.4,2023.47" fill="#000"/>
<polygon points="349.1,2027.12 352.6,2020.88 345.6,2020.88" fill="#000"/>
<line x1="107" y1="1773" x2="183.9" y2="1773" stroke="#555" stroke-width="1.34"/>
<line x1="107" y1="1770" x2="107" y2="1776" stroke="#555" stroke-width="1.34"/>
<line x1="183.9" y1="1770" x2="183.9" y2="1776" stroke="#555" stroke-width="1.34"/>
<text class="ff-serif" x="143.7" y="1766.81" font-size="19.38" fill="#111" text-anchor="middle" font-weight="bold">*</text>
<line x1="186.1" y1="1746.2" x2="343.6" y2="1746.2" stroke="#555" stroke-width="1.34"/>
<line x1="186.1" y1="1743.2" x2="186.1" y2="1749.2" stroke="#555" stroke-width="1.34"/>
<line x1="343.6" y1="1743.2" x2="343.6" y2="1749.2" stroke="#555" stroke-width="1.34"/>
<text class="ff-serif" x="264.6" y="1734.56" font-size="16.62" fill="#1a1a1a" text-anchor="middle" font-weight="bold">#</text>
<text class="ff-sans" x="0" y="0" font-size="15" fill="#000" text-anchor="middle" font-weight="bold" transform="translate(11.8,1900) rotate(-90)">g__Mucor</text>
</g>
<g id="E2">
<rect x="763.83" y="1944.6" width="51.75" height="88.1" fill="#9EADB8" stroke="#65829A" stroke-width="1"/>
<rect x="842.62" y="2010.7" width="51.75" height="22" fill="#C0504D" stroke="#B8423E" stroke-width="1"/>
<rect x="921.12" y="1903.9" width="52.75" height="128.8" fill="#F4B9AC"/>
<rect x="999.92" y="1980.3" width="52.75" height="52.4" fill="#C5E0E4"/>
<line x1="789.7" y1="1913.7" x2="789.7" y2="1973.1" stroke="#222" stroke-width="1.17"/>
<line x1="776.7" y1="1913.7" x2="802.7" y2="1913.7" stroke="#222" stroke-width="1.17"/>
<line x1="776.7" y1="1973.1" x2="802.7" y2="1973.1" stroke="#222" stroke-width="1.17"/>
<line x1="868.5" y1="1994.9" x2="868.5" y2="2024.8" stroke="#222" stroke-width="1.17"/>
<line x1="855.5" y1="1994.9" x2="881.5" y2="1994.9" stroke="#222" stroke-width="1.17"/>
<line x1="855.5" y1="2024.8" x2="881.5" y2="2024.8" stroke="#222" stroke-width="1.17"/>
<line x1="947.5" y1="1814.3" x2="947.5" y2="1992.7" stroke="#222" stroke-width="1.17"/>
<line x1="934.5" y1="1814.3" x2="960.5" y2="1814.3" stroke="#222" stroke-width="1.17"/>
<line x1="934.5" y1="1992.7" x2="960.5" y2="1992.7" stroke="#222" stroke-width="1.17"/>
<line x1="1026.3" y1="1944.1" x2="1026.3" y2="2015.7" stroke="#222" stroke-width="1.17"/>
<line x1="1013.3" y1="1944.1" x2="1039.3" y2="1944.1" stroke="#222" stroke-width="1.17"/>
<line x1="1013.3" y1="2015.7" x2="1039.3" y2="2015.7" stroke="#222" stroke-width="1.17"/>
<line x1="737.6" y1="1758.15" x2="737.6" y2="2033.55" stroke="#2a2a2a" stroke-width="1.7"/>
<line x1="734.35" y1="2032.7" x2="1080" y2="2032.7" stroke="#2a2a2a" stroke-width="1.7"/>
<line x1="733.6" y1="2032.7" x2="737.6" y2="2032.7" stroke="#2a2a2a" stroke-width="1.7"/>
<text class="ff-serif" x="707.85 715.23 722.85" y="2038.1" font-size="16.5" fill="#1f1f1f" font-weight="bold">0.0</text>
<line x1="733.6" y1="1978" x2="737.6" y2="1978" stroke="#2a2a2a" stroke-width="1.7"/>
<text class="ff-serif" x="707.85 715.23 722.85" y="1983.4" font-size="16.5" fill="#1f1f1f" font-weight="bold">0.1</text>
<line x1="733.6" y1="1923.2" x2="737.6" y2="1923.2" stroke="#2a2a2a" stroke-width="1.7"/>
<text class="ff-serif" x="707.85 715.23 722.85" y="1928.6" font-size="16.5" fill="#1f1f1f" font-weight="bold">0.2</text>
<line x1="733.6" y1="1868.5" x2="737.6" y2="1868.5" stroke="#2a2a2a" stroke-width="1.7"/>
<text class="ff-serif" x="707.85 715.23 722.85" y="1873.9" font-size="16.5" fill="#1f1f1f" font-weight="bold">0.3</text>
<line x1="733.6" y1="1813.8" x2="737.6" y2="1813.8" stroke="#2a2a2a" stroke-width="1.7"/>
<text class="ff-serif" x="707.85 715.23 722.85" y="1819.2" font-size="16.5" fill="#1f1f1f" font-weight="bold">0.4</text>
<line x1="733.6" y1="1759" x2="737.6" y2="1759" stroke="#2a2a2a" stroke-width="1.7"/>
<text class="ff-serif" x="707.85 715.23 722.85" y="1764.4" font-size="16.5" fill="#1f1f1f" font-weight="bold">0.5</text>
<line x1="789.7" y1="2032.7" x2="789.7" y2="2037.2" stroke="#333" stroke-width="1.5"/>
<text class="ff-sans" x="789.7" y="2053.33" font-size="14.75" fill="#000" text-anchor="middle" font-weight="bold">NC</text>
<line x1="868.5" y1="2032.7" x2="868.5" y2="2037.2" stroke="#333" stroke-width="1.5"/>
<text class="ff-sans" x="868.5" y="2053.33" font-size="14.75" fill="#000" text-anchor="middle" font-weight="bold">HF</text>
<line x1="947.5" y1="2032.7" x2="947.5" y2="2037.2" stroke="#333" stroke-width="1.5"/>
<text class="ff-sans" x="947.5" y="2053.33" font-size="14.75" fill="#000" text-anchor="middle" font-weight="bold">HF-NC</text>
<line x1="1026.3" y1="2032.7" x2="1026.3" y2="2037.2" stroke="#333" stroke-width="1.5"/>
<text class="ff-sans" x="1026.3" y="2053.33" font-size="14.75" fill="#000" text-anchor="middle" font-weight="bold">HF-MD</text>
<circle cx="789.7" cy="1901.5" r="3.06" fill="#000"/>
<circle cx="789.7" cy="1947.2" r="3.06" fill="#000"/>
<circle cx="789.7" cy="1956.1" r="3.06" fill="#000"/>
<circle cx="789.7" cy="1970" r="3.06" fill="#000"/>
<rect x="865.56" y="1991.96" width="5.88" height="5.88" fill="#000"/>
<rect x="860.06" y="2002.46" width="5.88" height="5.88" fill="#000"/>
<rect x="871.06" y="2005.56" width="5.88" height="5.88" fill="#000"/>
<rect x="865.56" y="2027.86" width="5.88" height="5.88" fill="#000"/>
<polygon points="947.5,1824.38 951,1830.62 944,1830.62" fill="#000"/>
<polygon points="947.5,1852.38 951,1858.62 944,1858.62" fill="#000"/>
<polygon points="947.5,1900.58 951,1906.83 944,1906.83" fill="#000"/>
<polygon points="947.5,2027.17 951,2033.42 944,2033.42" fill="#000"/>
<polygon points="1020.8,1954.22 1024.3,1947.97 1017.3,1947.97" fill="#000"/>
<polygon points="1031.8,1951.83 1035.3,1945.58 1028.3,1945.58" fill="#000"/>
<polygon points="1026.3,2003.33 1029.8,1997.08 1022.8,1997.08" fill="#000"/>
<polygon points="1026.3,2022.22 1029.8,2015.97 1022.8,2015.97" fill="#000"/>
<line x1="789.7" y1="1874" x2="868.5" y2="1874" stroke="#555" stroke-width="1.34"/>
<line x1="789.7" y1="1871" x2="789.7" y2="1877" stroke="#555" stroke-width="1.34"/>
<line x1="868.5" y1="1871" x2="868.5" y2="1877" stroke="#555" stroke-width="1.34"/>
<text class="ff-serif" x="829.88" y="1868.11" font-size="19.38" fill="#111" text-anchor="middle" font-weight="bold" letter-spacing="3.75">**</text>
<text class="ff-sans" x="0" y="0" font-size="15" fill="#000" text-anchor="middle" font-weight="bold" transform="translate(694.7,1900.4) rotate(-90)">g__Piromyces</text>
</g>
<g id="E3">
<rect x="1454.72" y="1976.4" width="51.75" height="2.1" fill="#9EADB8" stroke="#65829A" stroke-width="1"/>
<rect x="1533.53" y="1870.5" width="51.75" height="108" fill="#C0504D" stroke="#B8423E" stroke-width="1"/>
<rect x="1611.83" y="1974.4" width="52.75" height="4.1" fill="#F4B9AC"/>
<rect x="1690.33" y="1974.7" width="52.75" height="3.8" fill="#C5E0E4"/>
<line x1="1480.6" y1="1970.8" x2="1480.6" y2="1980.7" stroke="#222" stroke-width="1.17"/>
<line x1="1467.6" y1="1970.8" x2="1493.6" y2="1970.8" stroke="#222" stroke-width="1.17"/>
<line x1="1467.6" y1="1980.7" x2="1493.6" y2="1980.7" stroke="#222" stroke-width="1.17"/>
<line x1="1559.4" y1="1820.5" x2="1559.4" y2="1919.6" stroke="#222" stroke-width="1.17"/>
<line x1="1546.4" y1="1820.5" x2="1572.4" y2="1820.5" stroke="#222" stroke-width="1.17"/>
<line x1="1546.4" y1="1919.6" x2="1572.4" y2="1919.6" stroke="#222" stroke-width="1.17"/>
<line x1="1427.9" y1="1758.8" x2="1427.9" y2="2033.6" stroke="#000" stroke-width="2"/>
<line x1="1424.65" y1="2032.6" x2="1769.5" y2="2032.6" stroke="#000" stroke-width="2"/>
<line x1="1424.9" y1="1978.5" x2="1769.5" y2="1978.5" stroke="#000" stroke-width="1.3"/>
<line x1="1423.9" y1="2032.6" x2="1427.9" y2="2032.6" stroke="#000" stroke-width="2"/>
<text class="ff-serif" x="1389.28 1398.15 1405.53 1413.15" y="2038" font-size="16.5" fill="#1f1f1f" font-weight="bold">−0.1</text>
<line x1="1423.9" y1="1978.5" x2="1427.9" y2="1978.5" stroke="#000" stroke-width="2"/>
<text class="ff-serif" x="1398.15 1405.53 1413.15" y="1983.9" font-size="16.5" fill="#1f1f1f" font-weight="bold">0.0</text>
<line x1="1423.9" y1="1923.7" x2="1427.9" y2="1923.7" stroke="#000" stroke-width="2"/>
<text class="ff-serif" x="1398.15 1405.53 1413.15" y="1929.1" font-size="16.5" fill="#1f1f1f" font-weight="bold">0.1</text>
<line x1="1423.9" y1="1869.1" x2="1427.9" y2="1869.1" stroke="#000" stroke-width="2"/>
<text class="ff-serif" x="1398.15 1405.53 1413.15" y="1874.5" font-size="16.5" fill="#1f1f1f" font-weight="bold">0.2</text>
<line x1="1423.9" y1="1814.4" x2="1427.9" y2="1814.4" stroke="#000" stroke-width="2"/>
<text class="ff-serif" x="1398.15 1405.53 1413.15" y="1819.8" font-size="16.5" fill="#1f1f1f" font-weight="bold">0.3</text>
<line x1="1423.9" y1="1759.8" x2="1427.9" y2="1759.8" stroke="#000" stroke-width="2"/>
<text class="ff-serif" x="1398.15 1405.53 1413.15" y="1765.2" font-size="16.5" fill="#1f1f1f" font-weight="bold">0.4</text>
<line x1="1480.6" y1="2032.6" x2="1480.6" y2="2037.1" stroke="#333" stroke-width="1.5"/>
<text class="ff-sans" x="1480.6" y="2052.93" font-size="14.75" fill="#000" text-anchor="middle" font-weight="bold">NC</text>
<line x1="1559.4" y1="2032.6" x2="1559.4" y2="2037.1" stroke="#333" stroke-width="1.5"/>
<text class="ff-sans" x="1559.4" y="2052.93" font-size="14.75" fill="#000" text-anchor="middle" font-weight="bold">HF</text>
<line x1="1638.2" y1="2032.6" x2="1638.2" y2="2037.1" stroke="#333" stroke-width="1.5"/>
<text class="ff-sans" x="1638.2" y="2052.93" font-size="14.75" fill="#000" text-anchor="middle" font-weight="bold">HF-NC</text>
<line x1="1716.7" y1="2032.6" x2="1716.7" y2="2037.1" stroke="#333" stroke-width="1.5"/>
<text class="ff-sans" x="1716.7" y="2052.93" font-size="14.75" fill="#000" text-anchor="middle" font-weight="bold">HF-MD</text>
<circle cx="1480.6" cy="1968.7" r="3.06" fill="#000"/>
<circle cx="1469.3" cy="1979" r="3.06" fill="#000"/>
<circle cx="1480.6" cy="1979" r="3.06" fill="#000"/>
<circle cx="1491.6" cy="1979" r="3.06" fill="#000"/>
<rect x="1556.46" y="1814.66" width="5.88" height="5.88" fill="#000"/>
<rect x="1556.46" y="1841.46" width="5.88" height="5.88" fill="#000"/>
<rect x="1556.46" y="1886.26" width="5.88" height="5.88" fill="#000"/>
<rect x="1556.46" y="1927.66" width="5.88" height="5.88" fill="#000"/>
<polygon points="1621.6,1975.58 1625.1,1981.83 1618.1,1981.83" fill="#000"/>
<polygon points="1632.7,1975.58 1636.2,1981.83 1629.2,1981.83" fill="#000"/>
<polygon points="1643.7,1975.58 1647.2,1981.83 1640.2,1981.83" fill="#000"/>
<polygon points="1654.7,1975.58 1658.2,1981.83 1651.2,1981.83" fill="#000"/>
<polygon points="1700.4,1981.42 1703.9,1975.17 1696.9,1975.17" fill="#000"/>
<polygon points="1711.2,1981.42 1714.7,1975.17 1707.7,1975.17" fill="#000"/>
<polygon points="1722.2,1981.42 1725.7,1975.17 1718.7,1975.17" fill="#000"/>
<polygon points="1733,1981.42 1736.5,1975.17 1729.5,1975.17" fill="#000"/>
<line x1="1482" y1="1797.5" x2="1559.4" y2="1797.5" stroke="#555" stroke-width="1.34"/>
<line x1="1482" y1="1794.5" x2="1482" y2="1800.5" stroke="#555" stroke-width="1.34"/>
<line x1="1559.4" y1="1794.5" x2="1559.4" y2="1800.5" stroke="#555" stroke-width="1.34"/>
<text class="ff-serif" x="1521.47" y="1791.91" font-size="19.38" fill="#111" text-anchor="middle" font-weight="bold" letter-spacing="3.75">**</text>
<line x1="1560.1" y1="1773" x2="1637.4" y2="1773" stroke="#555" stroke-width="1.34"/>
<line x1="1560.1" y1="1770" x2="1560.1" y2="1776" stroke="#555" stroke-width="1.34"/>
<line x1="1637.4" y1="1770" x2="1637.4" y2="1776" stroke="#555" stroke-width="1.34"/>
<text class="ff-serif" x="1600.16" y="1761.16" font-size="16.62" fill="#1a1a1a" text-anchor="middle" font-weight="bold" letter-spacing="3.12">##</text>
<line x1="1560.1" y1="1744.5" x2="1716.7" y2="1744.5" stroke="#555" stroke-width="1.34"/>
<line x1="1560.1" y1="1741.5" x2="1560.1" y2="1747.5" stroke="#555" stroke-width="1.34"/>
<line x1="1716.7" y1="1741.5" x2="1716.7" y2="1747.5" stroke="#555" stroke-width="1.34"/>
<text class="ff-serif" x="1639.26" y="1732.46" font-size="16.62" fill="#1a1a1a" text-anchor="middle" font-weight="bold" letter-spacing="3.12">##</text>
<text class="ff-sans" x="0" y="0" font-size="15" fill="#000" text-anchor="middle" font-weight="bold" transform="translate(1376.9,1900.7) rotate(-90)">g__Aspergillus</text>
</g>
<text class="ff-serif" x="442.5" y="788.7" font-size="38.3" fill="#000" text-anchor="middle" font-weight="bold">(A)</text>
<text class="ff-serif" x="1285.9" y="781.7" font-size="38.3" fill="#000" text-anchor="middle" font-weight="bold">(B)</text>
<text class="ff-serif" x="442.5" y="1633" font-size="38.3" fill="#000" text-anchor="middle" font-weight="bold">(C)</text>
<text class="ff-serif" x="1206.5" y="1646" font-size="38.3" fill="#000" text-anchor="middle" font-weight="bold">(D)</text>
<text class="ff-serif" x="902.2" y="2111.3" font-size="38.3" fill="#000" text-anchor="middle" font-weight="bold">(E)</text>
</svg>
</body>
</html>
